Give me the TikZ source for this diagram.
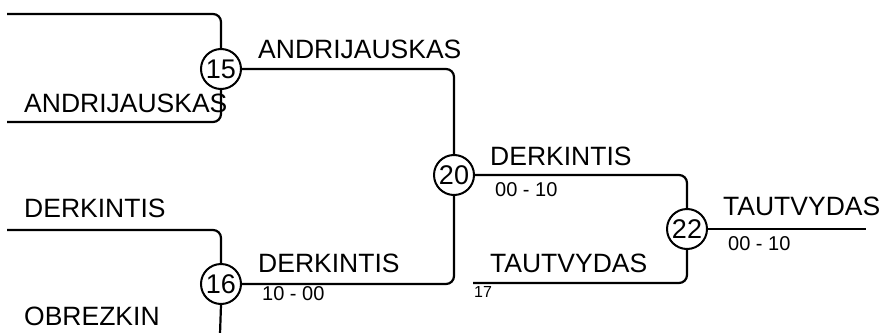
\documentclass[tikz,border=0pt]{standalone}
\usepackage{fontspec}
\setmainfont{Liberation Sans}
\begin{document}
\begin{tikzpicture}[x=1pt,y=-1pt,
  seed/.style={circle,draw,line width=2pt,fill=white,minimum size=40pt,inner sep=0pt,font=\fontsize{27}{27}\selectfont},
  wire/.style={line width=2.2pt,rounded corners=8pt},
  player/.style={anchor=base west,inner sep=0pt,font=\fontsize{26.5}{26.5}\selectfont},
  score/.style={anchor=base west,inner sep=0pt,font=\fontsize{20}{20}\selectfont},
  tinylabel/.style={anchor=base west,inner sep=0pt,font=\fontsize{16}{16}\selectfont}]
\useasboundingbox (0,0) rectangle (886,332);
% coordinates
\coordinate (a1) at (7,14);
\coordinate (a2) at (7,122);
\coordinate (b1) at (7,230);
\coordinate (b2) at (220,334);
\coordinate (t1) at (473,283);
\coordinate (e) at (866,229);
% seeds
\node[seed] (c15) at (221,69) {15};
\node[seed] (c16) at (221,284) {16};
\node[seed] (c20) at (454,175) {20};
\node[seed] (c22) at (687,229) {22};
% wires
\draw[wire] (a1) -| (c15.north);
\draw[wire] (a2) -| (c15.south);
\draw[wire] (b1) -| (c16.north);
\draw[wire] (c16.south) -- (b2);
\draw[wire] (c15.east) -| (c20.north);
\draw[wire] (c16.east) -| (c20.south);
\draw[wire] (c20.east) -| (c22.north);
\draw[wire] (t1) -| (c22.south);
\draw[wire] (c22.east) -- (e);
% names
\node[player] (n1) at (24,112) {ANDRIJAUSKAS};
\node[player] (n2) at (24,217) {DERKINTIS};
\node[player] (n3) at (24,325) {OBREZKIN};
\node[player] (n4) at (258,58) {ANDRIJAUSKAS};
\node[player] (n5) at (258,272) {DERKINTIS};
\node[player] (n6) at (490,165) {DERKINTIS};
\node[player] (n7) at (490,272) {TAUTVYDAS};
\node[player] (n8) at (723,215) {TAUTVYDAS};
% scores
\node[score] (s1) at (262,300) {10 - 00};
\node[score] (s2) at (495,196) {00 - 10};
\node[score] (s3) at (728,250) {00 - 10};
\node[tinylabel] (s4) at (474,297) {17};
\end{tikzpicture}
\end{document}
